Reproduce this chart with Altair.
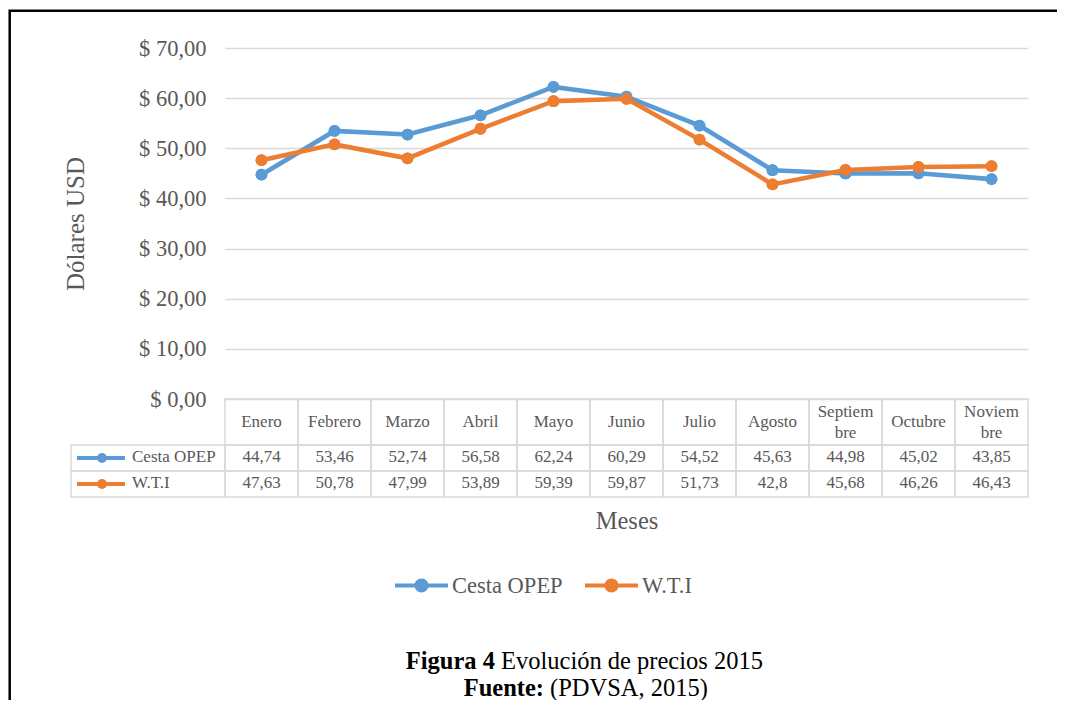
import altair as alt
import pandas as pd

# ---------------- data ----------------
months = ["Enero", "Febrero", "Marzo", "Abril", "Mayo", "Junio", "Julio",
          "Agosto", "Septiembre", "Octubre", "Noviembre"]
month_headers = ["Enero", "Febrero", "Marzo", "Abril", "Mayo", "Junio", "Julio",
                 "Agosto", "Septiem\nbre", "Octubre", "Noviem\nbre"]
series_names = ["Cesta OPEP", "W.T.I"]
cesta_opep = [44.74, 53.46, 52.74, 56.58, 62.24, 60.29, 54.52, 45.63, 44.98, 45.02, 43.85]
wti = [47.63, 50.78, 47.99, 53.89, 59.39, 59.87, 51.73, 42.8, 45.68, 46.26, 46.43]
y_ticks = [0, 10, 20, 30, 40, 50, 60, 70]
y_title = "Dólares USD"
x_title = "Meses"
caption_bold = ["Figura 4", "Fuente:"]
caption_rest = ["Evolución de precios 2015", "(PDVSA, 2015)"]

# ---------------- styles ----------------
BLUE = "#5B9BD5"
ORANGE = "#ED7D31"
GRAY = "#595959"
GRID = "#D9D9D9"
FONT = "Liberation Serif"
W, H = 803, 449           # plot area (chart + table)
CH = 351                  # height of the price chart part
HDR = 397                 # bottom of the table header row

# ---------------- tables ----------------
rows = []
for s, vals in zip(series_names, [cesta_opep, wti]):
    for m, v in zip(months, vals):
        rows.append({"month": m, "series": s, "value": v})
long = pd.DataFrame(rows)

hdr = pd.DataFrame({"month": months, "header": month_headers,
                    "top": 0, "bottom": 2, "mid": 1})
hdr["two"] = hdr["header"].str.contains("\n")

cells = []
for i, (s, vals) in enumerate(zip(series_names, [cesta_opep, wti])):
    for m, v in zip(months, vals):
        cells.append({"month": m, "series": s, "txt": str(v).replace(".", ","),
                      "top": 2 + i, "bottom": 3 + i, "mid": 2.5 + i})
cells = pd.DataFrame(cells)
row_lbl = pd.DataFrame({"series": series_names,
                        "top": [2, 3], "bottom": [3, 4], "mid": [2.5, 3.5]})

color_scale = alt.Scale(domain=series_names, range=[BLUE, ORANGE])
x_axis = alt.Axis(title=x_title, labels=False, ticks=False, domain=False, grid=False,
                  titleFont=FONT, titleFontSize=24.5, titleFontWeight="normal",
                  titleColor=GRAY, titlePadding=12)
x_scale = alt.Scale(type="band", domain=months, paddingInner=0, paddingOuter=0)


def X(band=0.5):
    return alt.X("month:N", sort=months, scale=x_scale, axis=x_axis, bandPosition=band)


price_scale = alt.Scale(domain=[0, 70], range=[CH, 0], nice=False, zero=False)
table_scale = alt.Scale(domain=[0, 2, 4], range=[CH, HDR, H], nice=False, zero=False)

y_axis = alt.Axis(values=y_ticks, grid=True, gridColor=GRID, gridWidth=1.5,
                  domain=False, ticks=False, labelPadding=19,
                  labelExpr="'$ ' + replace(format(datum.value, '.2f'), '.', ',')",
                  labelFont=FONT, labelFontSize=22.5, labelColor=GRAY,
                  title=y_title, titleFont=FONT, titleFontSize=25,
                  titleFontWeight="normal", titleColor=GRAY, titlePadding=50)

legend_path = ("M-1,-0.075L1,-0.075L1,0.075L-1,0.075Z"
               "M-0.264,0A0.264,0.264,0,1,1,0.264,0A0.264,0.264,0,1,1,-0.264,0Z")
legend = alt.Legend(title=None, orient="none", direction="horizontal",
                    legendX=170, legendY=511, padding=0,
                    symbolType=legend_path, symbolSize=2809,
                    symbolStrokeWidth=0, symbolOpacity=1,
                    labelFont=FONT, labelFontSize=22.5,
                    labelColor=GRAY, labelOffset=4,
                    columnPadding=22, labelLimit=300)

base = alt.Chart(long)

points = base.mark_point(filled=True, size=140, opacity=1).encode(
    x=X(),
    y=alt.Y("value:Q", scale=price_scale, axis=y_axis),
    color=alt.Color("series:N", scale=color_scale, legend=legend),
)
lines = base.mark_line(strokeWidth=4.6).encode(
    x=X(),
    y=alt.Y("value:Q", scale=price_scale, axis=None),
    color=alt.Color("series:N", scale=color_scale, legend=legend),
)
points_top = base.mark_point(filled=True, size=140, opacity=1).encode(
    x=X(),
    y=alt.Y("value:Q", scale=price_scale, axis=None),
    color=alt.Color("series:N", scale=color_scale, legend=legend),
)

tbl_y = alt.Y("top:Q", scale=table_scale, axis=None)
mid_y = alt.Y("mid:Q", scale=table_scale, axis=None)

hdr_cells = alt.Chart(hdr).mark_rect(fillOpacity=0, stroke=GRID, strokeWidth=1.5).encode(
    x=X(0), y=tbl_y, y2="bottom:Q")
val_cells = alt.Chart(cells).mark_rect(fillOpacity=0, stroke=GRID, strokeWidth=1.5).encode(
    x=X(0), y=tbl_y, y2="bottom:Q")
lbl_cells = alt.Chart(row_lbl).mark_rect(fillOpacity=0, stroke=GRID, strokeWidth=1.5).encode(
    x=alt.value(-154), x2=alt.value(0), y=tbl_y, y2="bottom:Q")

hdr_text1 = alt.Chart(hdr).transform_filter("!datum.two").mark_text(
    font=FONT, fontSize=17, color=GRAY, baseline="middle").encode(
    x=X(), y=mid_y, text="header:N")
hdr_text2 = alt.Chart(hdr).transform_filter("datum.two").mark_text(
    font=FONT, fontSize=17, color=GRAY, lineBreak="\n", lineHeight=21,
    baseline="middle", dy=-10.5).encode(
    x=X(), y=mid_y, text="header:N")
val_text = alt.Chart(cells).mark_text(font=FONT, fontSize=17, color=GRAY,
                                      baseline="middle", dy=-1).encode(
    x=X(), y=mid_y, text="txt:N")
lbl_text = alt.Chart(row_lbl).mark_text(font=FONT, fontSize=17, color=GRAY, align="left",
                                        baseline="middle", dy=-1).encode(
    x=alt.value(-93), y=mid_y, text="series:N")
lbl_line = alt.Chart(row_lbl).mark_rule(strokeWidth=4).encode(
    x=alt.value(-148), x2=alt.value(-100), y=mid_y,
    color=alt.Color("series:N", scale=color_scale, legend=legend))
lbl_dot = alt.Chart(row_lbl).mark_point(filled=True, size=100, opacity=1).encode(
    x=alt.value(-123), y=mid_y,
    color=alt.Color("series:N", scale=color_scale, legend=legend))

cap = pd.DataFrame({"bold": caption_bold, "rest": caption_rest})
cap1b = alt.Chart(cap.iloc[[0]]).mark_text(font=FONT, fontSize=24.5, fontWeight="bold",
                                           color="black", align="right").encode(
    x=alt.value(270), y=alt.value(614), text="bold:N")
cap1r = alt.Chart(cap.iloc[[0]]).mark_text(font=FONT, fontSize=24.5, color="black",
                                           align="left").encode(
    x=alt.value(276), y=alt.value(614), text="rest:N")
cap2b = alt.Chart(cap.iloc[[1]]).mark_text(font=FONT, fontSize=24.5, fontWeight="bold",
                                           color="black", align="right").encode(
    x=alt.value(319), y=alt.value(641), text="bold:N")
cap2r = alt.Chart(cap.iloc[[1]]).mark_text(font=FONT, fontSize=24.5, color="black",
                                           align="left").encode(
    x=alt.value(325), y=alt.value(641), text="rest:N")

frame = alt.Chart(pd.DataFrame({"k": [0]})).mark_rect(
    fillOpacity=0, stroke="black", strokeWidth=2.5).encode(
    x=alt.value(-215.3), x2=alt.value(1200), y=alt.value(-37.3), y2=alt.value(900))

chart = alt.layer(
    points, lines, points_top, hdr_cells, val_cells, lbl_cells, hdr_text1, hdr_text2,
    val_text, lbl_text, lbl_line, lbl_dot, cap1b, cap1r, cap2b, cap2r, frame
).resolve_scale(y="independent").properties(
    width=W, height=H,
    autosize=alt.AutoSizeParams(type="none"),
    padding={"left": 217, "top": 40, "right": 29, "bottom": 203},
    background="white",
).configure_view(strokeWidth=0)

chart.save("out.html", embed_options={"renderer": "svg", "actions": False})
